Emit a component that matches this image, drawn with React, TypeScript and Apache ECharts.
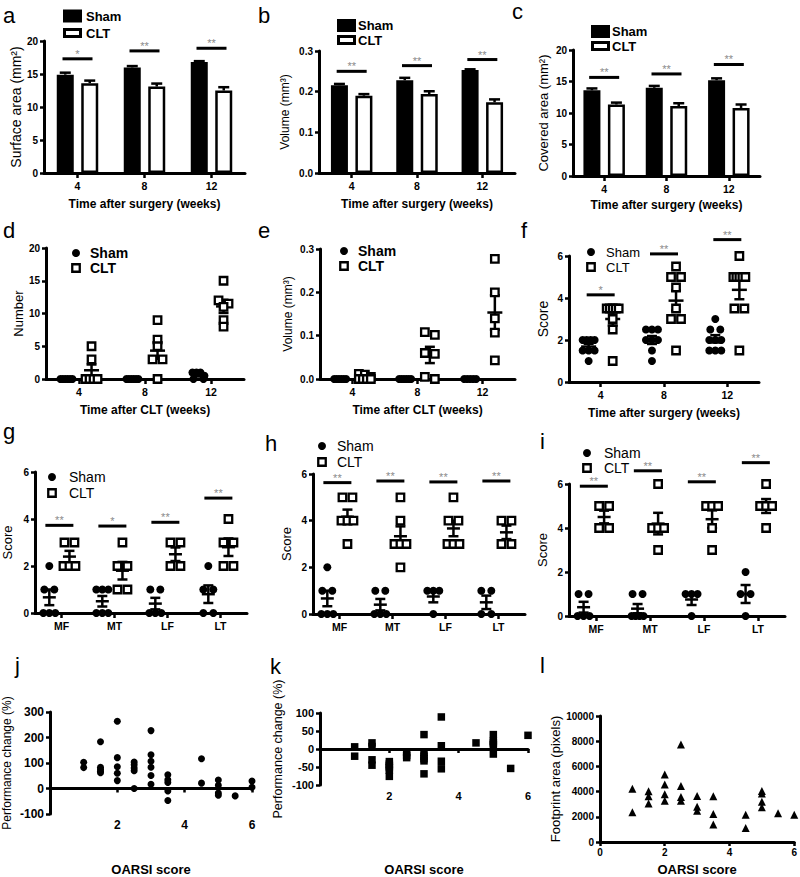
import React, { useEffect, useRef } from 'react';
import * as echarts from 'echarts';

const FONT = '"Liberation Sans", Arial, Helvetica, sans-serif';

// ---------------- categories ----------------
const weekCats = ['4', '8', '12'];
const siteCats = ['MF', 'MT', 'LF', 'LT'];

// ---------------- a: surface area ----------------
const aShamMean = [14.9, 16.0, 16.8];
const aShamSem = [0.3, 0.2, 0.15];
const aCltMean = [13.6, 13.1, 12.5];
const aCltSem = [0.4, 0.45, 0.5];
const aSigY = [17.3, 18.5, 18.9];
const aStars = ['*', '**', '**'];

// ---------------- b: volume ----------------
const bShamMean = [0.216, 0.228, 0.253];
const bShamSem = [0.003, 0.006, 0.002];
const bCltMean = [0.19, 0.194, 0.174];
const bCltSem = [0.004, 0.007, 0.007];
const bSigY = [0.25, 0.264, 0.279];
const bStars = ['**', '**', '**'];

// ---------------- c: covered area ----------------
const cShamMean = [13.6, 14.0, 15.2];
const cShamSem = [0.3, 0.3, 0.3];
const cCltMean = [11.35, 11.1, 10.8];
const cCltSem = [0.3, 0.45, 0.55];
const cSigY = [15.65, 16.2, 17.7];
const cStars = ['**', '**', '**'];

// ---------------- d: number ----------------
const dSham = [[0, 0, 0, 0, 0, 0], [0, 0, 0, 0, 0, 0], [1, 1, 1, 0.5, 0, 0]];
const dClt = [[5, 3, 0, 0, 0, 0], [9, 6, 5, 3, 3, 0], [15, 12, 11.5, 11, 9, 8]];

// ---------------- e: volume ----------------
const eSham = [[0, 0, 0, 0, 0, 0], [0, 0, 0, 0, 0, 0], [0, 0, 0, 0, 0]];
const eClt = [
  [0.012, 0.01, 0.005, 0, 0, 0, 0],
  [0.108, 0.102, 0.06, 0.058, 0.005, 0],
  [0.277, 0.2, 0.14, 0.107, 0.043],
];

// ---------------- f: score ----------------
const fSham = [
  [2, 2, 2, 2, 1.5, 1.5, 1.5, 1],
  [2.5, 2.5, 2.5, 2, 2, 2, 1.5, 1],
  [3, 2.5, 2.5, 2, 2, 2, 1.5, 1.5, 1.5],
];
const fClt = [
  [3.5, 3.5, 3.5, 3.5, 3.5, 3, 2.5, 1],
  [5.5, 5, 5, 4.5, 3.5, 3, 3, 1.5],
  [6, 5, 5, 5, 5, 5, 3.5, 3.5, 1.5],
];
const fSigY = [4.15, 6.1, 6.78];
const fStars = ['*', '**', '**'];

// ---------------- g: score ----------------
const gSham = [[2, 1, 1, 0, 0, 0], [1, 1, 1, 0, 0, 0], [1, 1, 0, 0, 0], [2, 1, 1, 0, 0]];
const gClt = [[3, 3, 2, 2, 2], [3, 2, 2, 1, 1], [3, 3, 2, 2], [4, 3, 3, 2, 2]];
const gSigY = [3.73, 3.7, 3.86, 4.89];
const gStars = ['**', '*', '**', '**'];

// ---------------- h: score ----------------
const hSham = [[2, 1, 1, 0, 0, 0], [1, 1, 0, 0, 0], [1, 1, 1, 0], [1, 1, 0, 0]];
const hClt = [[5, 5, 4, 4, 4, 3], [5, 4, 3, 3, 3, 2], [5, 4, 4, 3, 3, 3], [4, 4, 3, 3]];
const hSigY = [5.63, 5.7, 5.66, 5.7];
const hStars = ['**', '**', '**', '**'];

// ---------------- i: score ----------------
const iSham = [[1, 1, 0, 0, 0], [1, 1, 0, 0, 0, 0], [1, 1, 1, 0], [2, 1, 1, 0]];
const iClt = [[5, 5, 4, 4], [6, 4, 4, 4, 3], [5, 5, 5, 4, 3], [6, 5, 5, 5, 4]];
const iSigY = [5.9, 6.6, 6.1, 6.97];
const iStars = ['**', '**', '**', '**'];

// ---------------- j: OARSI vs performance change ----------------
const jPoints = [
  [1, 103], [1, 82],
  [1.5, 183], [1.5, 83], [1.5, 75], [1.5, 68], [1.5, 62],
  [2, 264], [2, 121], [2, 85], [2, 60], [2, 31],
  [2.5, 104], [2.5, 93], [2.5, 80], [2.5, 70], [2.5, 0],
  [3, 227], [3, 132], [3, 107], [3, 83], [3, 51], [3, 17],
  [3.5, 54], [3.5, 34], [3.5, 24], [3.5, -10], [3.5, -47],
  [4.5, 117], [4.5, 21],
  [5, 33], [5, 13], [5, -18], [5, -26],
  [5.5, -29],
  [6, 29], [6, 5],
];

// ---------------- k ----------------
const kPoints = [
  [1, 6], [1, -20],
  [1.5, 17], [1.5, 7], [1.5, -30], [1.5, -45],
  [2, -35], [2, -42], [2, -47], [2, -52], [2, -59], [2, -76],
  [2.5, -10], [2.5, -18], [2.5, -24],
  [3, 40], [3, -10], [3, -20], [3, -27], [3, -33], [3, -69],
  [3.5, 89], [3.5, 9], [3.5, -34], [3.5, -55],
  [4.5, 17],
  [5, 40], [5, 22], [5, 17], [5, 12], [5, -14],
  [5.5, -54],
  [6, 38],
];

// ---------------- l ----------------
const lPoints = [
  [1, 4230], [1, 2360],
  [1.5, 4020], [1.5, 3640], [1.5, 3060],
  [2, 5350], [2, 4570], [2, 3790], [2, 3270],
  [2.5, 7740], [2.5, 4440], [2.5, 3580], [2.5, 3270],
  [3, 3660], [3, 2800], [3, 2490],
  [3.5, 3640], [3.5, 2230], [3.5, 1380],
  [4.5, 2160], [4.5, 1120],
  [5, 4050], [5, 3840], [5, 3190], [5, 2750],
  [5.5, 2290],
  [6, 2160],
];

// ================= layout =================
const grids = [
  { left: 44, top: 41, width: 201, height: 132 }, // a
  { left: 319, top: 51, width: 196, height: 122 }, // b
  { left: 573, top: 50, width: 187, height: 126 }, // c
  { left: 46, top: 248, width: 198, height: 131 }, // d
  { left: 320, top: 249, width: 195, height: 130 }, // e
  { left: 569, top: 256, width: 190, height: 126 }, // f
  { left: 35, top: 472, width: 212, height: 141 }, // g
  { left: 313, top: 474, width: 212, height: 140 }, // h
  { left: 569, top: 484, width: 216, height: 132 }, // i
  { left: 49, top: 712, width: 203, height: 136 }, // j
  { left: 320, top: 713, width: 208, height: 138 }, // k
  { left: 600, top: 716, width: 197, height: 128 }, // l
];

const BLACK = '#000';

function yAx(gi: number, min: number, max: number, interval: number, name: string, nameGap: number, nameSize: number, fmt?: any, labelSize = 10) {
  return {
    type: 'value', gridIndex: gi, min, max, interval, position: 'left',
    axisLine: { show: true, onZero: false, lineStyle: { color: BLACK, width: 3, opacity: 1, type: 'solid' } },
    axisTick: { show: true, inside: false, length: 4, lineStyle: { color: BLACK, width: 2.5, opacity: 1 } },
    axisLabel: { color: BLACK, fontFamily: FONT, fontWeight: 'bold', fontSize: labelSize, margin: 6, formatter: fmt || ((v: number) => String(v)) },
    splitLine: { show: false },
    name, nameLocation: 'middle', nameGap,
    nameTextStyle: { color: BLACK, fontFamily: FONT, fontSize: nameSize },
  };
}

function xCat(gi: number, cats: string[], name: string, nameGap: number) {
  return {
    type: 'category', gridIndex: gi, data: cats, boundaryGap: true, position: 'bottom',
    axisLine: { show: true, onZero: false, lineStyle: { color: BLACK, width: 3 } },
    axisTick: { show: true, alignWithLabel: true, length: 5, lineStyle: { color: BLACK, width: 2.5 } },
    axisLabel: { color: BLACK, fontFamily: FONT, fontWeight: 'bold', fontSize: 10.5, margin: 7 },
    splitLine: { show: false },
    name, nameLocation: 'middle', nameGap,
    nameTextStyle: { color: BLACK, fontFamily: FONT, fontWeight: 'bold', fontSize: 12 },
  };
}

function xVal(gi: number, nameGap: number, onZero: boolean, hideZero: boolean, labelSize: number) {
  return {
    type: 'value', gridIndex: gi, min: 0, max: 6, interval: 2, position: 'bottom',
    axisLine: { show: true, onZero, lineStyle: { color: BLACK, width: 3 } },
    axisTick: { show: true, length: 4, lineStyle: { color: BLACK, width: 2.5 } },
    axisLabel: {
      color: BLACK, fontFamily: FONT, fontWeight: 'bold', fontSize: labelSize, margin: 5,
      formatter: (v: number) => (hideZero && v === 0 ? '' : String(v)),
    },
    splitLine: { show: false },
    name: 'OARSI score', nameLocation: 'middle', nameGap,
    nameTextStyle: { color: BLACK, fontFamily: FONT, fontWeight: 'bold', fontSize: 13 },
  };
}

function sigRender(stars: string[], centerFrac: number, halfW: number) {
  return (params: any, api: any) => {
    const i = params.dataIndex;
    const p = api.coord([api.value(0), api.value(1)]);
    const band = api.size([1, 0])[0];
    const cx = p[0] + centerFrac * band;
    return {
      type: 'group',
      children: [
        { type: 'line', shape: { x1: cx - halfW, y1: p[1], x2: cx + halfW, y2: p[1] }, style: { stroke: BLACK, lineWidth: 3 } },
        {
          type: 'text', x: cx, y: p[1] - 5,
          style: { text: stars[i], fill: '#8a8a8a', fontSize: 11, fontFamily: FONT, align: 'center', verticalAlign: 'middle' },
        },
      ],
    };
  };
}

const BW = 17;
const BGAP = 0.44;
const BOFF = (BW + BW * BGAP) / 2;

function barPanel(gi: number, sm: number[], ss: number[], cm: number[], cs: number[], sigY: number[], stars: string[]) {
  const err: number[][] = [];
  sm.forEach((v, i) => err.push([i, v, ss[i], 0]));
  cm.forEach((v, i) => err.push([i, v, cs[i], 1]));
  return [
    {
      type: 'bar', name: 'Sham', xAxisIndex: gi, yAxisIndex: gi, data: sm, barWidth: BW, barGap: `${BGAP * 100}%`,
      itemStyle: { color: BLACK, borderColor: BLACK, borderWidth: 2.5, opacity: 1 }, silent: true,
    },
    {
      type: 'bar', name: 'CLT', xAxisIndex: gi, yAxisIndex: gi, data: cm, barWidth: BW, barGap: `${BGAP * 100}%`,
      itemStyle: { color: '#fff', borderColor: BLACK, borderWidth: 2.5, opacity: 1 }, silent: true,
    },
    {
      type: 'custom', xAxisIndex: gi, yAxisIndex: gi, data: err, encode: { x: 0, y: 1 }, z: 3, silent: true,
      renderItem: (params: any, api: any) => {
        const cat = api.value(0), v = api.value(1), e = api.value(2), kind = api.value(3);
        const p0 = api.coord([cat, v]);
        const p1 = api.coord([cat, v + e]);
        const x = p0[0] + (kind === 0 ? -BOFF : BOFF);
        const st = { stroke: BLACK, lineWidth: 2.5 };
        return {
          type: 'group',
          children: [
            { type: 'line', shape: { x1: x, y1: p0[1], x2: x, y2: p1[1] }, style: st },
            { type: 'line', shape: { x1: x - 5.5, y1: p1[1], x2: x + 5.5, y2: p1[1] }, style: st },
          ],
        };
      },
    },
    {
      type: 'custom', xAxisIndex: gi, yAxisIndex: gi, data: sigY.map((y, i) => [i, y]), encode: { x: 0, y: 1 }, z: 4, silent: true,
      renderItem: sigRender(stars, 0, 15),
    },
  ];
}

function stats(vals: number[]) {
  const n = vals.length;
  const m = vals.reduce((a, b) => a + b, 0) / n;
  const sd = n > 1 ? Math.sqrt(vals.reduce((a, b) => a + (b - m) * (b - m), 0) / (n - 1)) : 0;
  return [m, sd / Math.sqrt(n)];
}

function dotPanel(gi: number, sham: number[][], clt: number[][], sigY: number[] | null, stars: string[], offs: number[], tol: number, meanW: number) {
  const pts: number[][] = [];
  const st: number[][] = [];
  [sham, clt].forEach((groups, kind) => {
    groups.forEach((vals, cat) => {
      const sorted = vals.slice().sort((a, b) => b - a);
      const rows: number[][] = [];
      sorted.forEach((v) => {
        const r = rows[rows.length - 1];
        if (r && Math.abs(r[0] - v) <= tol) r.push(v);
        else rows.push([v]);
      });
      rows.forEach((r) => r.forEach((v, k) => pts.push([cat, v, kind, k, r.length])));
      const [m, s] = stats(vals);
      st.push([cat, m, s, kind]);
    });
  });
  const series: any[] = [
    {
      type: 'custom', xAxisIndex: gi, yAxisIndex: gi, data: st, encode: { x: 0, y: 1 }, z: 2, silent: true,
      renderItem: (params: any, api: any) => {
        const cat = api.value(0), m = api.value(1), s = api.value(2), kind = api.value(3);
        const p = api.coord([cat, m]);
        const top = api.coord([cat, m + s])[1];
        const bot = api.coord([cat, m - s])[1];
        const band = api.size([1, 0])[0];
        const x = p[0] + offs[kind] * band;
        const sty = { stroke: BLACK, lineWidth: 2.5 };
        return {
          type: 'group',
          children: [
            { type: 'line', shape: { x1: x - meanW / 2, y1: p[1], x2: x + meanW / 2, y2: p[1] }, style: sty },
            { type: 'line', shape: { x1: x, y1: top, x2: x, y2: bot }, style: sty },
            { type: 'line', shape: { x1: x - 5, y1: top, x2: x + 5, y2: top }, style: sty },
            { type: 'line', shape: { x1: x - 5, y1: bot, x2: x + 5, y2: bot }, style: sty },
          ],
        };
      },
    },
    {
      type: 'custom', xAxisIndex: gi, yAxisIndex: gi, data: pts, encode: { x: 0, y: 1 }, z: 3, silent: true,
      renderItem: (params: any, api: any) => {
        const cat = api.value(0), v = api.value(1), kind = api.value(2), rank = api.value(3), count = api.value(4);
        const p = api.coord([cat, v]);
        const band = api.size([1, 0])[0];
        const span = count > 1 ? Math.min((count - 1) * 10, 12) : 0;
        const dx = count > 1 ? -span / 2 + (rank * span) / (count - 1) : 0;
        const x = p[0] + offs[kind] * band + dx;
        if (kind === 0) return { type: 'circle', shape: { cx: x, cy: p[1], r: 4 }, style: { fill: BLACK } };
        return { type: 'rect', shape: { x: x - 3.75, y: p[1] - 3.75, width: 7.5, height: 7.5 }, style: { fill: '#fff', stroke: BLACK, lineWidth: 2.3 } };
      },
    },
  ];
  if (sigY) {
    series.push({
      type: 'custom', xAxisIndex: gi, yAxisIndex: gi, data: sigY.map((y, i) => [i, y]), encode: { x: 0, y: 1 }, z: 4, silent: true,
      renderItem: sigRender(stars, (offs[0] + offs[1]) / 2, 14),
    });
  }
  return series;
}

function letter(t: string, x: number, baseline: number, size = 22) {
  return {
    type: 'text', x, y: baseline - 7,
    style: { text: t, fill: BLACK, fontSize: size, fontFamily: FONT, align: 'left', verticalAlign: 'middle' },
  };
}

function barLegend(x: number, ySham: number, yClt: number, tx: number) {
  const ts = { fill: BLACK, fontSize: 13, fontFamily: FONT, fontWeight: 'bold', align: 'left', verticalAlign: 'middle' };
  return [
    { type: 'rect', shape: { x, y: ySham - 6.5, width: 19, height: 13 }, style: { fill: BLACK } },
    { type: 'rect', shape: { x: x + 1.5, y: yClt - 3.5, width: 16, height: 7 }, style: { fill: '#fff', stroke: BLACK, lineWidth: 3 } },
    { type: 'text', x: tx, y: ySham, style: { ...ts, text: 'Sham' } },
    { type: 'text', x: tx, y: yClt, style: { ...ts, text: 'CLT' } },
  ];
}

function dotLegend(x: number, ySham: number, yClt: number, tx: number, size: number, bold: boolean) {
  const ts = { fill: BLACK, fontSize: size, fontFamily: FONT, fontWeight: bold ? 'bold' : 'normal', align: 'left', verticalAlign: 'middle' };
  return [
    { type: 'circle', shape: { cx: x, cy: ySham, r: 4 }, style: { fill: BLACK } },
    { type: 'rect', shape: { x: x - 3.75, y: yClt - 3.75, width: 7.5, height: 7.5 }, style: { fill: '#fff', stroke: BLACK, lineWidth: 2.3 } },
    { type: 'text', x: tx, y: ySham, style: { ...ts, text: 'Sham' } },
    { type: 'text', x: tx, y: yClt, style: { ...ts, text: 'CLT' } },
  ];
}

function buildOption() {
  const f1 = (v: number) => v.toFixed(1);
  const xAxis = [
    xCat(0, weekCats, 'Time after surgery (weeks)', 25),
    xCat(1, weekCats, 'Time after surgery (weeks)', 25),
    xCat(2, weekCats, 'Time after surgery (weeks)', 23),
    xCat(3, weekCats, 'Time after CLT (weeks)', 25),
    xCat(4, weekCats, 'Time after CLT (weeks)', 25),
    xCat(5, weekCats, 'Time after surgery (weeks)', 25),
    xCat(6, siteCats, '', 0),
    xCat(7, siteCats, '', 0),
    xCat(8, siteCats, '', 0),
    xVal(9, 49, true, true, 12),
    xVal(10, 78, true, true, 11),
    xVal(11, 21, false, false, 10),
  ];
  const yAxis = [
    yAx(0, 0, 20, 5, 'Surface area (mm²)', 19, 14),
    yAx(1, 0, 0.3, 0.1, 'Volume (mm³)', 28, 12, f1),
    yAx(2, 0, 20, 5, 'Covered area (mm²)', 23, 13),
    yAx(3, 0, 20, 5, 'Number', 19, 13),
    yAx(4, 0, 0.3, 0.1, 'Volume (mm³)', 26, 12, f1),
    yAx(5, 0, 6, 2, 'Score', 19, 14),
    yAx(6, 0, 6, 2, 'Score', 21, 13),
    yAx(7, 0, 6, 2, 'Score', 20, 13),
    yAx(8, 0, 6, 2, 'Score', 20, 13),
    yAx(9, -100, 300, 100, 'Performance change (%)', 37, 12, undefined, 12),
    yAx(10, -100, 100, 50, 'Performance change (%)', 36, 12.5, undefined, 11),
    yAx(11, 0, 10000, 2000, 'Footprint area (pixels)', 31, 13, undefined, 10),
  ];
  const scatterStyle = { color: BLACK, opacity: 1 };
  const series: any[] = [
    ...barPanel(0, aShamMean, aShamSem, aCltMean, aCltSem, aSigY, aStars),
    ...barPanel(1, bShamMean, bShamSem, bCltMean, bCltSem, bSigY, bStars),
    ...barPanel(2, cShamMean, cShamSem, cCltMean, cCltSem, cSigY, cStars),
    ...dotPanel(3, dSham, dClt, null, [], [-0.19, 0.19], 0.6, 15),
    ...dotPanel(4, eSham, eClt, null, [], [-0.19, 0.19], 0.009, 15),
    ...dotPanel(5, fSham, fClt, fSigY, fStars, [-0.19, 0.19], 0.1, 15),
    ...dotPanel(6, gSham, gClt, gSigY, gStars, [-0.23, 0.15], 0.1, 13),
    ...dotPanel(7, hSham, hClt, hSigY, hStars, [-0.23, 0.15], 0.1, 13),
    ...dotPanel(8, iSham, iClt, iSigY, iStars, [-0.23, 0.15], 0.1, 13),
    { type: 'scatter', xAxisIndex: 9, yAxisIndex: 9, data: jPoints, symbol: 'circle', symbolSize: 7, itemStyle: scatterStyle, silent: true },
    { type: 'scatter', xAxisIndex: 10, yAxisIndex: 10, data: kPoints, symbol: 'rect', symbolSize: 7.5, itemStyle: scatterStyle, silent: true },
    { type: 'scatter', xAxisIndex: 11, yAxisIndex: 11, data: lPoints, symbol: 'triangle', symbolSize: 8, itemStyle: scatterStyle, silent: true },
  ];
  const graphic: any[] = [
    letter('a', 3, 22), letter('b', 258, 22), letter('c', 512, 18),
    letter('d', 3, 237), letter('e', 258, 237), letter('f', 521, 237),
    letter('g', 3, 438), letter('h', 265, 450), letter('i', 540, 448),
    letter('j', 15, 672), letter('k', 270, 673), letter('l', 540, 672),
    ...barLegend(63, 16, 33, 86),
    ...barLegend(337, 25.5, 40, 358),
    ...barLegend(591, 31.5, 46, 612),
    ...dotLegend(76, 253, 268, 90, 14, true),
    ...dotLegend(344, 251, 266, 358, 14, true),
    ...dotLegend(591, 252, 267, 606, 13, false),
    ...dotLegend(52, 477, 493, 69, 14, false),
    ...dotLegend(322, 446, 462, 337, 14, false),
    ...dotLegend(587, 453, 468, 604, 14, false),
  ];
  return {
    animation: false,
    backgroundColor: '#fff',
    grid: grids.map((g) => ({ ...g, containLabel: false })),
    xAxis,
    yAxis,
    series,
    graphic,
  };
}

export default function App() {
  const ref = useRef<HTMLDivElement>(null);
  useEffect(() => {
    if (!ref.current) return;
    const chart = echarts.init(ref.current, null, { renderer: 'svg' });
    chart.setOption(buildOption() as any);
    return () => chart.dispose();
  }, []);
  return <div ref={ref} style={{ position: 'absolute', left: 0, top: 0, width: 800, height: 877, background: '#fff' }} />;
}
